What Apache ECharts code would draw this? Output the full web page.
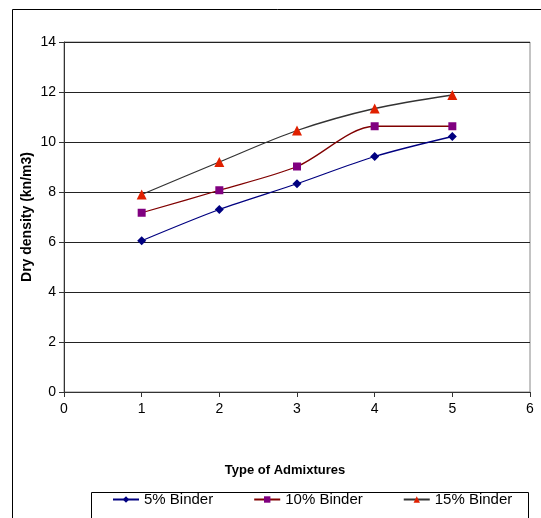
<!DOCTYPE html>
<html><head><meta charset="utf-8">
<script src="https://cdn.jsdelivr.net/npm/echarts@6/dist/echarts.min.js"></script>
<style>html,body{margin:0;padding:0;background:#fff}#c{width:541px;height:518px}</style>
</head><body><div id="c"></div>
<script>
const admixtures = [1, 2, 3, 4, 5];
const binder5 = [6.05, 7.3, 8.33, 9.42, 10.22];
const binder10 = [7.17, 8.07, 9.02, 10.63, 10.63];
const binder15 = [7.9, 9.2, 10.46, 11.34, 11.88];
const xTicks = [0, 1, 2, 3, 4, 5, 6];
const yTicks = [0, 2, 4, 6, 8, 10, 12, 14];
const FONT = "'Liberation Sans', Arial, sans-serif";

const pairs = arr => admixtures.map((x, i) => [x, arr[i]]);
const chart = echarts.init(document.getElementById('c'), null, {renderer: 'canvas'});
chart.setOption({
  animation: false,
  backgroundColor: '#fff',
  graphic: [{
    type: 'rect', left: 10, top: 7,
    shape: {width: 540, height: 520},
    style: {fill: 'none', stroke: '#000', lineWidth: 1}, z: -1
  }, {
    type: 'rect', left: 89, top: 490,
    shape: {width: 437, height: 40},
    style: {fill: 'none', stroke: '#000', lineWidth: 1}, z: -1
  }],
  grid: {left: 64, right: 11, top: 42, bottom: 126, show: true, borderColor: '#888', borderWidth: 1},
  xAxis: {
    type: 'value', min: xTicks[0], max: xTicks[xTicks.length - 1], interval: 1,
    name: 'Type of Admixtures', nameLocation: 'middle', nameGap: 72,
    nameTextStyle: {fontFamily: FONT, fontWeight: 'bold', fontSize: 13, color: '#000', padding: [0, 24, 0, 0]},
    axisLine: {show: true, lineStyle: {color: '#333'}},
    axisTick: {show: true, inside: false, length: 5, lineStyle: {color: '#333'}},
    axisLabel: {fontFamily: FONT, fontSize: 14, color: '#000', margin: 10},
    splitLine: {show: false}
  },
  yAxis: {
    type: 'value', min: yTicks[0], max: yTicks[yTicks.length - 1], interval: 2,
    name: 'Dry density (kn/m3)', nameLocation: 'middle', nameGap: 30, nameRotate: 90,
    nameMoveOverlap: false,
    nameTextStyle: {fontFamily: FONT, fontWeight: 'bold', fontSize: 14, color: '#000'},
    axisLine: {show: true, lineStyle: {color: '#333'}},
    axisTick: {show: true, inside: false, length: 5, lineStyle: {color: '#333'}},
    axisLabel: {fontFamily: FONT, fontSize: 14, color: '#000', margin: 8},
    splitLine: {show: true, lineStyle: {color: '#222', width: 1}}
  },
  legend: {
    left: 112, top: 492, padding: 0,
    itemGap: 40, itemWidth: 26, itemHeight: 8,
    textStyle: {fontFamily: FONT, fontSize: 15, color: '#000'},
    data: ['5% Binder', '10% Binder', '15% Binder']
  },
  series: [
    {name: '5% Binder', type: 'line', data: pairs(binder5), smooth: 0.3,
     symbol: 'diamond', symbolSize: 9,
     lineStyle: {color: '#000080', width: 1.3}, itemStyle: {color: '#000080'}},
    {name: '10% Binder', type: 'line', data: pairs(binder10), smooth: 0.3,
     symbol: 'rect', symbolSize: 8,
     lineStyle: {color: '#800000', width: 1.3}, itemStyle: {color: '#800080'}},
    {name: '15% Binder', type: 'line', data: pairs(binder15), smooth: 0.3,
     symbol: 'triangle', symbolSize: 10,
     lineStyle: {color: '#333333', width: 1.3}, itemStyle: {color: '#e02000'}}
  ]
});
</script></body></html>
